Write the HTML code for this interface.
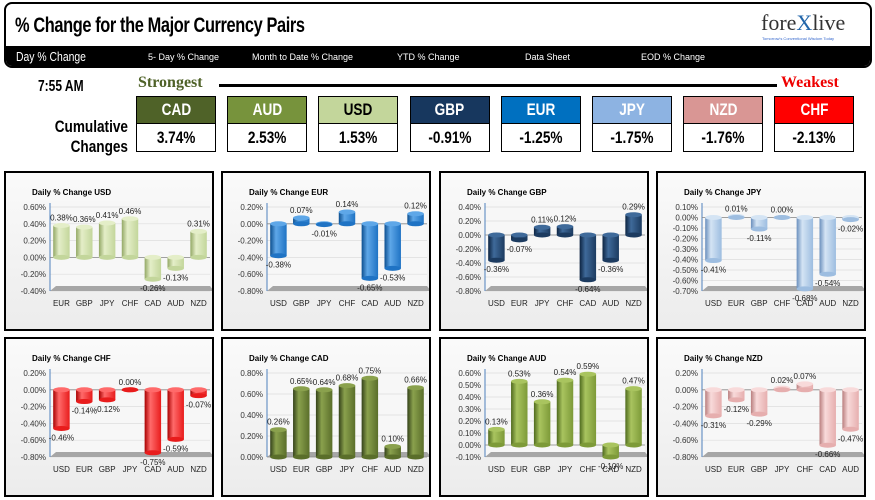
<!DOCTYPE html>
<html><head><meta charset="utf-8"><style>
body{margin:0;width:875px;height:500px;background:#fff;font-family:"Liberation Sans",sans-serif;position:relative;overflow:hidden}
.abs{position:absolute}
#hdr{left:4px;top:2px;width:864px;height:62px;border:2px solid #000;border-radius:8px;overflow:hidden;background:#fff}
#title{left:9px;top:10px;font-size:21px;font-weight:bold;transform:scaleX(0.78);transform-origin:left;letter-spacing:-0.5px}
#nav{left:0;top:42px;width:864px;height:22px;background:#000;color:#fff;font-size:9px}
#nav div{position:absolute;top:6px}
.cur{left:10px;font-size:13px!important;top:3px!important;transform:scaleX(0.8);transform-origin:left}
.box{width:78px;height:54px;border:1px solid #000;top:96px}
.box .h{height:26px;color:#fff;font-weight:bold;font-size:17px;text-align:center;line-height:26px;border-bottom:1px solid #000}
.box .h span,.box .v span{display:inline-block;transform:scaleX(0.8);font-weight:bold}
.box .v{height:27px;font-weight:bold;font-size:17px;text-align:center;line-height:27px;background:#fff}
.panel{width:206px;height:156px;border:2px solid #000;background:linear-gradient(#fafafa,#ececec)}
.cond{transform:scaleX(0.8);transform-origin:right}
</style></head><body>
<div id="hdr" class="abs">
 <div id="title" class="abs">% Change for the Major Currency Pairs</div>
 <div class="abs" style="left:755px;top:6px;font-family:'Liberation Serif',serif;font-size:22px;color:#333">fore<span style="color:#2266aa">X</span>live</div>
 <div class="abs" style="left:756px;top:32px;font-size:4px;color:#36c">Tomorrow's Conventional Wisdom Today</div>
 <div id="nav" class="abs">
  <div class="cur">Day % Change</div>
  <div style="left:142px">5- Day % Change</div>
  <div style="left:246px">Month to Date % Change</div>
  <div style="left:391px">YTD % Change</div>
  <div style="left:519px">Data Sheet</div>
  <div style="left:635px">EOD % Change</div>
 </div>
</div>
<div class="abs" style="left:38px;top:78px;font-size:16px;font-weight:bold;transform:scaleX(0.75);transform-origin:left">7:55 AM</div>
<div class="abs" style="left:138px;top:74px;font-size:16px;font-weight:bold;color:#4f6228;font-family:'Liberation Serif',serif">Strongest</div>
<div class="abs" style="left:219px;top:84px;width:558px;height:3px;background:#000"></div>
<div class="abs" style="left:781px;top:74px;font-size:16px;font-weight:bold;color:#e00;font-family:'Liberation Serif',serif">Weakest</div>
<div class="abs cond" style="left:8px;top:117px;width:120px;text-align:right;font-size:17px;font-weight:bold;line-height:20px">Cumulative<br>Changes</div>
<div id="boxes"></div>
<div id="charts"></div>
<script>
const boxNames=['CAD','AUD','USD','GBP','EUR','JPY','NZD','CHF'];
const boxVals=['3.74%','2.53%','1.53%','-0.91%','-1.25%','-1.75%','-1.76%','-2.13%'];
const boxCols=['#4f6228','#77933c','#c3d69b','#17375e','#0070c0','#8db3e2','#d99694','#ff0000'];
const bc=document.getElementById('boxes');
boxNames.forEach((n,i)=>{const d=document.createElement('div');d.className='abs box';d.style.left=(136+i*91.2)+'px';


d.innerHTML='<div class="h" style="background:'+boxCols[i]+';color:'+(n=='USD'?'#000':'#fff')+'"><span>'+n+'</span></div><div class="v"><span>'+boxVals[i]+'</span></div>';bc.appendChild(d);});

const usdCats=['EUR','GBP','JPY','CHF','CAD','AUD','NZD'];
const usdVals=[0.38,0.36,0.41,0.46,-0.26,-0.13,0.31];
const usdTicks=[0.6,0.4,0.2,0,-0.2,-0.4];
const eurCats=['USD','GBP','JPY','CHF','CAD','AUD','NZD'];
const eurVals=[-0.38,0.07,-0.01,0.14,-0.65,-0.53,0.12];
const eurTicks=[0.2,0,-0.2,-0.4,-0.6,-0.8];
const gbpCats=['USD','EUR','JPY','CHF','CAD','AUD','NZD'];
const gbpVals=[-0.36,-0.07,0.11,0.12,-0.64,-0.36,0.29];
const gbpTicks=[0.4,0.2,0,-0.2,-0.4,-0.6,-0.8];
const jpyCats=['USD','EUR','GBP','CHF','CAD','AUD','NZD'];
const jpyVals=[-0.41,0.01,-0.11,0.00,-0.68,-0.54,-0.02];
const jpyTicks=[0.1,0,-0.1,-0.2,-0.3,-0.4,-0.5,-0.6,-0.7];
const chfCats=['USD','EUR','GBP','JPY','CAD','AUD','NZD'];
const chfVals=[-0.46,-0.14,-0.12,0.00,-0.75,-0.59,-0.07];
const chfTicks=[0.2,0,-0.2,-0.4,-0.6,-0.8];
const cadCats=['USD','EUR','GBP','JPY','CHF','AUD','NZD'];
const cadVals=[0.26,0.65,0.64,0.68,0.75,0.10,0.66];
const cadTicks=[0.8,0.6,0.4,0.2,0];
const audCats=['USD','EUR','GBP','JPY','CHF','CAD','NZD'];
const audVals=[0.13,0.53,0.36,0.54,0.59,-0.10,0.47];
const audTicks=[0.6,0.5,0.4,0.3,0.2,0.1,0,-0.1];
const nzdCats=['USD','EUR','GBP','JPY','CHF','CAD','AUD'];
const nzdVals=[-0.31,-0.12,-0.29,0.02,0.07,-0.66,-0.47];
const nzdTicks=[0.2,0,-0.2,-0.4,-0.6,-0.8];

const charts=[
 ['USD',usdCats,usdVals,usdTicks,'#c3d69b','#e4eec8','#93a865',4,171],
 ['EUR',eurCats,eurVals,eurTicks,'#1f73c4','#5ea7e8','#0d4f8f',221,171],
 ['GBP',gbpCats,gbpVals,gbpTicks,'#1c3b60','#3f6a9a','#0c2340',439,171],
 ['JPY',jpyCats,jpyVals,jpyTicks,'#9dbde0','#d4e4f4','#6a8fbd',656,171],
 ['CHF',chfCats,chfVals,chfTicks,'#e81c1c','#ff6a6a','#a80000',4,337],
 ['CAD',cadCats,cadVals,cadTicks,'#5a6e2a','#8aa14d','#34421a',221,337],
 ['AUD',audCats,audVals,audTicks,'#7d9a38','#a9c45f','#4f6a1e',439,337],
 ['NZD',nzdCats,nzdVals,nzdTicks,'#e6aeae','#f8dada','#b97e7e',656,337]
];
const NS='http://www.w3.org/2000/svg';
const host=document.getElementById('charts');
function mk(t,a,p){const e=document.createElementNS(NS,t);for(const k in a)e.setAttribute(k,a[k]);p.appendChild(e);return e;}
charts.forEach(c=>{
 const [name,cats,vals,ticks,col,hi,lo,px,py]=c;
 const div=document.createElement('div');div.className='abs panel';div.style.left=px+'px';div.style.top=py+'px';
 
 
 host.appendChild(div);
 const svg=mk('svg',{width:206,height:156,style:'position:absolute;left:0;top:0;font-family:Liberation Sans,sans-serif'},div);
 const id='g'+name;
 const defs=mk('defs',{},svg);const lg=mk('linearGradient',{id:id,x1:0,x2:1,y1:0,y2:0},defs);
 mk('stop',{offset:0,'stop-color':lo},lg);mk('stop',{offset:0.35,'stop-color':hi},lg);mk('stop',{offset:1,'stop-color':col},lg);
 const t=mk('text',{x:26,y:22,'font-size':8,'font-weight':'bold'},svg);t.textContent='Daily % Change '+name;
 
 
 const top=34,bot=118,x0=44,x1=204;
 const tmax=ticks[0],tmin=ticks[ticks.length-1];
 const y=v=>top+(tmax-v)/(tmax-tmin)*(bot-top);
 mk('rect',{x:x0,y:top-6,width:x1-x0,height:bot-top+6,fill:'#f7f7f7'},svg);
 ticks.forEach(v=>{const yy=y(v);mk('line',{x1:x0,x2:x1,y1:yy,y2:yy,stroke:'#ddd','stroke-width':0.7},svg);
  const tl=mk('text',{x:x0-4,y:yy+3,'font-size':8,'text-anchor':'end',fill:'#333'},svg);tl.textContent=v.toFixed(2)+'%';
  
  });
 mk('polygon',{points:`${x0},${bot} ${x0+6},${bot-5} ${x1},${bot-5} ${x1+4},${bot} `,fill:'#a6a6a6'},svg);
 mk('line',{x1:x0,x2:x0,y1:top-4,y2:bot,stroke:'#4f81bd','stroke-width':1},svg);
 mk('line',{x1:x0,x2:x1,y1:y(0),y2:y(0),stroke:'#888','stroke-width':0.8},svg);
 const slot=(x1-x0)/cats.length,bw=slot*0.72;
 cats.forEach((ct,i)=>{
  const cx=x0+slot*(i+0.5),v=vals[i],y0=y(0),yv=y(v);
  const r=mk('rect',{x:cx-bw/2,y:Math.min(y0,yv),width:bw,height:Math.max(Math.abs(yv-y0),1),fill:'url(#'+id+')'},svg);
  
  
  mk('ellipse',{cx:cx,cy:Math.min(y0,yv),rx:bw/2,ry:2.5,fill:hi},svg);
  mk('ellipse',{cx:cx,cy:Math.max(y0,yv),rx:bw/2,ry:2.5,fill:col},svg);
  const ly=v>=0?yv-5:yv+12;
  const vl=mk('text',{x:cx,y:ly,'font-size':8,'text-anchor':'middle',fill:'#222'},svg);vl.textContent=v.toFixed(2)+'%';
  
  
  const cl=mk('text',{x:cx,y:bot+15,'font-size':8,'text-anchor':'middle',fill:'#222'},svg);cl.textContent=ct;
  
  
 });
});
</script>
</body></html>
